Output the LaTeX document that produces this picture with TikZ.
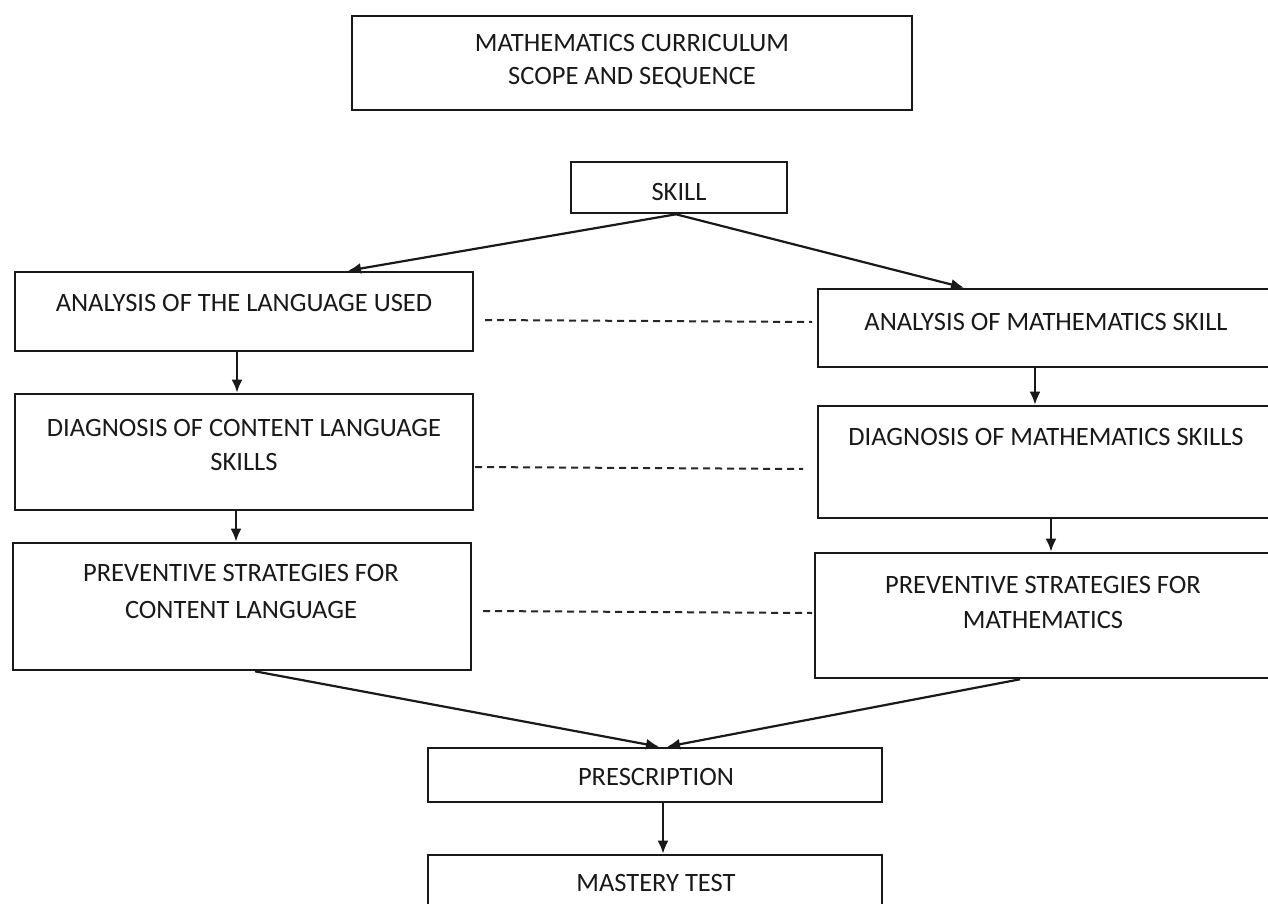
\documentclass[tikz,border=0pt]{standalone}
\usepackage{fontspec}
\setmainfont{Carlito}
\usetikzlibrary{arrows.meta}
\begin{document}
\begin{tikzpicture}[x=1pt,y=-1pt,
  box/.style={draw=black!90, line width=2.6pt, rectangle, inner sep=0pt},
  txt/.style={inner sep=0pt, align=center, text=black!90, font=\fontsize{26.5}{35}\selectfont},
  arr/.style={draw=black!90, line width=2.2pt, -{Latex[length=13pt,width=11pt]}},
  dashlink/.style={draw=black!85, line width=2pt, dash pattern=on 7pt off 5pt}
]
\clip (0,0) rectangle (1268,904);
\fill[white] (0,0) rectangle (1268,904);

% boxes
\node[box, minimum width=560pt, minimum height=94pt] (title) at (632,63) {};
\node[box, minimum width=216pt, minimum height=51pt] (skill) at (679,187.5) {};
\node[box, minimum width=458pt, minimum height=79pt] (L1) at (244,311.5) {};
\node[box, minimum width=472pt, minimum height=78pt] (R1) at (1054,328) {};
\node[box, minimum width=458pt, minimum height=116pt] (L2) at (244,452) {};
\node[box, minimum width=472pt, minimum height=112pt] (R2) at (1054,462) {};
\node[box, minimum width=458pt, minimum height=127pt] (L3) at (242,606.5) {};
\node[box, minimum width=475pt, minimum height=125pt] (R3) at (1052.5,615.5) {};
\node[box, minimum width=454pt, minimum height=54pt] (presc) at (655,775) {};
\node[box, minimum width=454pt, minimum height=75pt] (mast) at (655,892.5) {};

% texts
\node[txt, font=\fontsize{26.5}{33}\selectfont] (ttitle) at (632,61.5) {MATHEMATICS CURRICULUM\\SCOPE AND SEQUENCE};
\node[txt] (tskill) at (679,192) {SKILL};
\node[txt] (tL1) at (244,303) {ANALYSIS OF THE LANGUAGE USED};
\node[txt] (tR1) at (1046,322) {ANALYSIS OF MATHEMATICS SKILL};
\node[txt, font=\fontsize{26.5}{34}\selectfont] (tL2) at (244,445) {DIAGNOSIS OF CONTENT LANGUAGE\\SKILLS};
\node[txt] (tR2) at (1046,437) {DIAGNOSIS OF MATHEMATICS SKILLS};
\node[txt, font=\fontsize{26.5}{37}\selectfont] (tL3) at (241,591.5) {PREVENTIVE STRATEGIES FOR\\CONTENT LANGUAGE};
\node[txt] (tR3) at (1043,602.5) {PREVENTIVE STRATEGIES FOR\\MATHEMATICS};
\node[txt] (tpresc) at (656,777) {PRESCRIPTION};
\node[txt] (tmast) at (656,883) {MASTERY TEST};

% arrows
\draw[arr] ([xshift=-3pt]skill.south) -- ([xshift=104pt]L1.north);
\draw[arr] ([xshift=-3pt]skill.south) -- ([xshift=-90pt]R1.north);
\draw[arr] ([xshift=-7pt]L1.south) -- ([xshift=-7pt]L2.north);
\draw[arr] ([xshift=-19pt]R1.south) -- ([xshift=-19pt]R2.north);
\draw[arr] ([xshift=-8pt]L2.south) -- ([xshift=-6pt]L3.north);
\draw[arr] ([xshift=-3pt]R2.south) -- ([xshift=-1.5pt]R3.north);
\draw[arr] ([xshift=13pt]L3.south) -- ([xshift=4pt]presc.north);
\draw[arr] ([xshift=-32.5pt]R3.south) -- ([xshift=12pt]presc.north);
\draw[arr] ([xshift=8pt]presc.south) -- ([xshift=8pt]mast.north);

% dashed links
\coordinate (d1a) at (485,320); \coordinate (d1b) at (812,322);
\coordinate (d2a) at (475,467); \coordinate (d2b) at (803,469);
\coordinate (d3a) at (483,611); \coordinate (d3b) at (812,613);
\draw[dashlink] (d1a) -- (d1b);
\draw[dashlink] (d2a) -- (d2b);
\draw[dashlink] (d3a) -- (d3b);
\end{tikzpicture}
\end{document}
